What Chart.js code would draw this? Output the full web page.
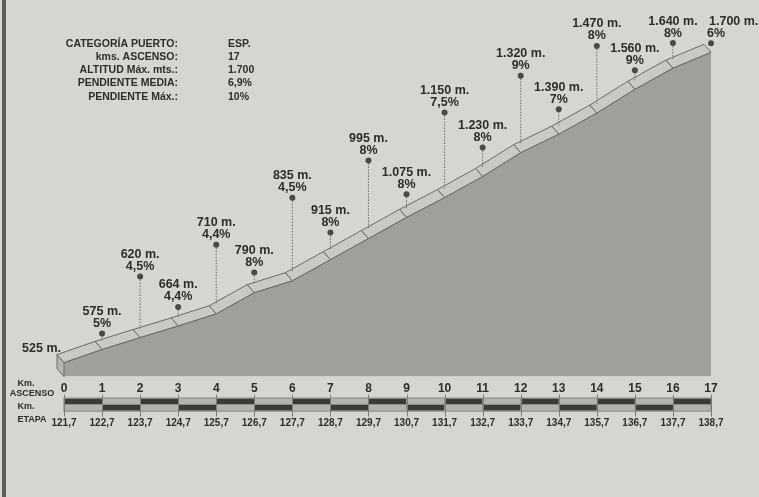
<!DOCTYPE html>
<html>
<head>
<meta charset="utf-8">
<script src="https://cdn.jsdelivr.net/npm/chart.js@4.4.1/dist/chart.umd.min.js"></script>
<style>
  html, body { margin: 0; padding: 0; background: #d6d5cf; }
  canvas { display: block; }
</style>
</head>
<body>
<canvas id="perfil" width="759" height="497"></canvas>
<script>
// Datos del puerto
const kmAscenso = [0, 1, 2, 3, 4, 5, 6, 7, 8, 9, 10, 11, 12, 13, 14, 15, 16, 17];
const kmEtapa = ['121,7', '122,7', '123,7', '124,7', '125,7', '126,7', '127,7', '128,7', '129,7',
                 '130,7', '131,7', '132,7', '133,7', '134,7', '135,7', '136,7', '137,7', '138,7'];
const altitudes = [525, 575, 620, 664, 710, 790, 835, 915, 995, 1075, 1150, 1230, 1320, 1390, 1470, 1560, 1640, 1700];
const pendientes = ['', '5%', '4,5%', '4,4%', '4,4%', '8%', '4,5%', '8%', '8%', '8%', '7,5%', '8%', '9%', '7%', '8%', '9%', '8%', '6%'];
const fichaLabels = ['CATEGORÍA PUERTO:', 'kms. ASCENSO:', 'ALTITUD Máx. mts.:', 'PENDIENTE MEDIA:', 'PENDIENTE Máx.:'];
const fichaValues = ['ESP.', '17', '1.700', '6,9%', '10%'];

const PAPER = '#d6d5cf';
const INK = '#2d2d2b';
const FONT = "'Liberation Sans', Arial, sans-serif";

// altura (px) del palito de cada cota, solo estilo
const stemPx = [0, 16, 61, 19, 69, 20, 83, 27, 78, 23, 85, 29, 77, 25, 67, 19, 25, 9];

function formatAltitude(h) {
    if (h < 1000) return h + ' m.';
    return Math.floor(h / 1000) + '.' + String(h % 1000).padStart(3, '0') + ' m.';
}

const paperPlugin = {
    id: 'paper',
    beforeDraw(chart) {
        const c = chart.ctx;
        c.save();
        c.fillStyle = PAPER;
        c.fillRect(0, 0, chart.width, chart.height);
        c.fillStyle = '#5e5d59';
        c.fillRect(2, 0, 4, chart.height);
        c.restore();
    }
};

// cinta en 3D encima del perfil
const ribbonPlugin = {
    id: 'ribbon',
    afterDatasetsDraw(chart) {
        const c = chart.ctx;
        const pts = chart.getDatasetMeta(0).data;
        const bottom = chart.chartArea.bottom;
        const dx = -7, dy = -8;
        c.save();
        c.lineWidth = 1;
        c.strokeStyle = '#6b6a65';
        c.lineJoin = 'round';

        const p0 = pts[0];
        c.beginPath();
        c.moveTo(p0.x + dx, p0.y + dy);
        c.lineTo(p0.x, p0.y);
        c.lineTo(p0.x, bottom);
        c.lineTo(p0.x + dx, bottom + dy);
        c.closePath();
        c.fillStyle = '#b7b6b0';
        c.fill();
        c.stroke();

        for (let i = 0; i < pts.length - 1; i++) {
            const a = pts[i], b = pts[i + 1];
            c.beginPath();
            c.moveTo(a.x, a.y);
            c.lineTo(b.x, b.y);
            c.lineTo(b.x + dx, b.y + dy);
            c.lineTo(a.x + dx, a.y + dy);
            c.closePath();
            c.fillStyle = '#cac9c3';
            c.fill();
            c.stroke();
        }
        c.restore();
    }
};

// cotas, porcentajes, ficha y leyenda de ejes
const labelsPlugin = {
    id: 'cotas',
    afterDraw(chart) {
        const c = chart.ctx;
        const pts = chart.getDatasetMeta(0).data;
        const x = chart.scales.x;
        const last = pts.length - 1;
        c.save();

        // palitos y puntos
        for (let i = 1; i < pts.length; i++) {
            const p = pts[i];
            const dotY = p.y - stemPx[i];
            c.strokeStyle = '#6a6964';
            c.lineWidth = 1;
            c.setLineDash([1.5, 1.5]);
            c.beginPath();
            c.moveTo(p.x, dotY);
            c.lineTo(p.x, p.y - 9);
            c.stroke();
            c.setLineDash([]);
            c.fillStyle = '#4a4945';
            c.beginPath();
            c.arc(p.x, dotY, 3, 0, Math.PI * 2);
            c.fill();

            c.fillStyle = INK;
            c.font = 'bold 12.5px ' + FONT;
            c.textBaseline = 'middle';
            const t1 = formatAltitude(altitudes[i]);
            if (i === last) {
                // la última cota se apoya hacia la derecha
                c.textAlign = 'left';
                c.fillText(t1, p.x - 2, dotY - 22);
                c.textAlign = 'center';
                c.fillText(pendientes[i], p.x + 5, dotY - 10);
            } else {
                c.textAlign = 'center';
                c.fillText(t1, p.x, dotY - 22);
                c.fillText(pendientes[i], p.x, dotY - 10);
            }
        }

        // cota inicial
        c.textAlign = 'right';
        c.fillText(formatAltitude(altitudes[0]), pts[0].x - 3, pts[0].y - 14);

        // ficha técnica
        c.font = 'bold 10.5px ' + FONT;
        fichaLabels.forEach((t, i) => {
            const y = 44 + i * 13.2;
            c.textAlign = 'right';
            c.fillText(t, 178, y);
            c.textAlign = 'left';
            c.fillText(fichaValues[i], 228, y);
        });

        // barra kilométrica
        const top = chart.chartArea.bottom + 22;
        const h = 6;
        for (let k = 0; k < kmAscenso.length - 1; k++) {
            const x0 = x.getPixelForValue(kmAscenso[k]);
            const x1 = x.getPixelForValue(kmAscenso[k + 1]);
            const upperDark = k % 2 === 0;
            c.fillStyle = upperDark ? '#3b3a37' : '#b3b2ac';
            c.fillRect(x0, top, x1 - x0, h);
            c.fillStyle = upperDark ? '#b3b2ac' : '#3b3a37';
            c.fillRect(x0, top + h, x1 - x0, h);
        }
        const xl = x.getPixelForValue(kmAscenso[0]);
        const xr = x.getPixelForValue(kmAscenso[last]);
        c.strokeStyle = '#7d7c77';
        c.lineWidth = 1;
        c.strokeRect(xl, top - 0.5, xr - xl, 2 * h + 1);
        kmAscenso.forEach(k => {
            const px = Math.round(x.getPixelForValue(k)) + 0.5;
            c.beginPath();
            c.moveTo(px, top - 4);
            c.lineTo(px, top + 2 * h + 6);
            c.stroke();
        });

        // rótulos de ejes
        c.fillStyle = INK;
        c.textAlign = 'center';
        c.font = 'bold 9px ' + FONT;
        c.fillText('Km.', 26, 384);
        c.fillText('ASCENSO', 32, 394);
        c.fillText('Km.', 26, 407);
        c.fillText('ETAPA', 32, 420);
        c.restore();
    }
};

const ctx = document.getElementById('perfil').getContext('2d');
const perfil = new Chart(ctx, {
    type: 'line',
    data: {
        datasets: [{
            data: kmAscenso.map((k, i) => ({ x: k, y: altitudes[i] })),
            fill: 'start',
            backgroundColor: '#a09f99',
            borderColor: '#5f5e5a',
            borderWidth: 1,
            pointRadius: 0,
            tension: 0,
            clip: false
        }]
    },
    options: {
        responsive: false,
        animation: false,
        events: [],
        layout: { padding: { left: 64, right: 48, top: 10, bottom: 52 } },
        plugins: { legend: { display: false }, tooltip: { enabled: false } },
        scales: {
            y: { display: false, min: 472, max: 1860 },
            x: {
                type: 'linear', position: 'bottom', min: 0, max: 17,
                grid: { display: false, drawTicks: false },
                border: { display: false },
                ticks: {
                    stepSize: 1, autoSkip: false, maxRotation: 0, padding: 5,
                    color: INK, font: { family: FONT, size: 12, weight: 'bold' }
                }
            },
            x2: {
                type: 'linear', position: 'bottom', min: 0, max: 17,
                grid: { display: false, drawTicks: false },
                border: { display: false },
                ticks: {
                    stepSize: 1, autoSkip: false, maxRotation: 0, padding: 16,
                    color: INK, font: { family: FONT, size: 10, weight: 'bold' },
                    callback: (v) => kmEtapa[v]
                }
            }
        }
    },
    plugins: [paperPlugin, ribbonPlugin, labelsPlugin]
});
</script>
</body>
</html>
